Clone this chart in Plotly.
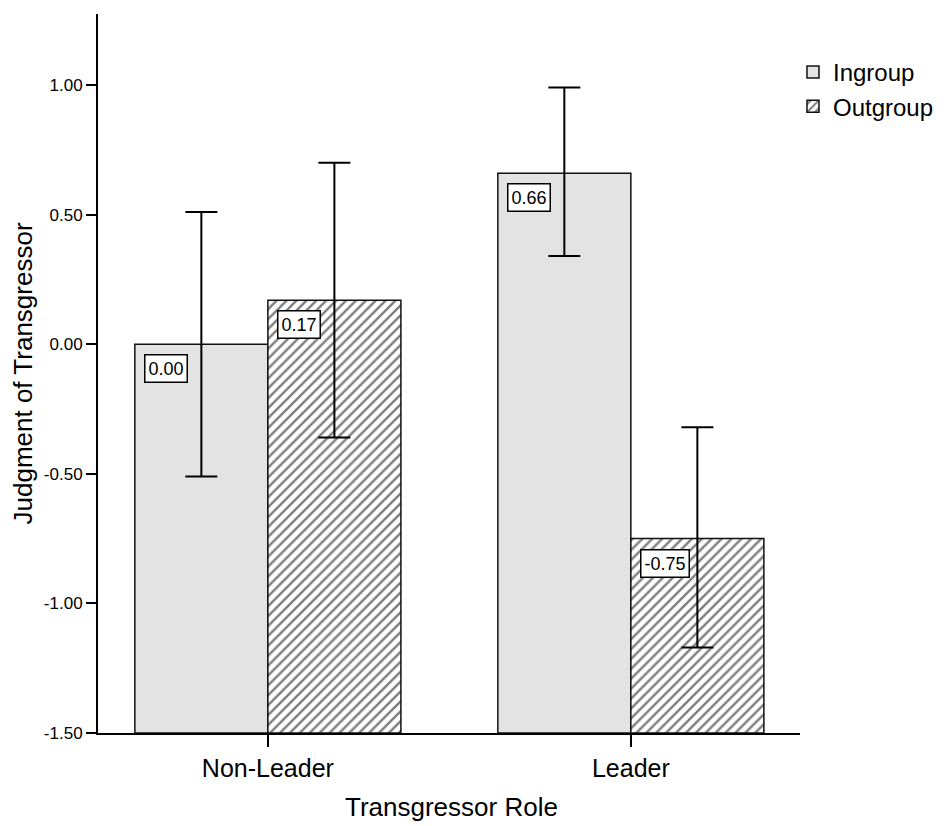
import plotly.graph_objects as go

categories = ["Non-Leader", "Leader"]
ingroup = [0.00, 0.66]
outgroup = [0.17, -0.75]
ingroup_err_plus = [0.51, 0.33]
ingroup_err_minus = [0.51, 0.32]
outgroup_err_plus = [0.53, 0.43]
outgroup_err_minus = [0.53, 0.42]
ytick_vals = [-1.5, -1.0, -0.5, 0.0, 0.5, 1.0]
ytick_text = ["-1.50", "-1.00", "-0.50", "0.00", "0.50", "1.00"]
BASE = -1.5

FONT = "Liberation Sans, Arial, sans-serif"
xs = [0, 1]

fig = go.Figure()
fig.add_trace(go.Bar(
    name="Ingroup", x=xs, y=[v - BASE for v in ingroup], base=BASE,
    marker=dict(color="#e3e3e3", line=dict(color="#111", width=1.5)),
    error_y=dict(type="data", symmetric=False, array=ingroup_err_plus,
                 arrayminus=ingroup_err_minus, color="black", thickness=2, width=16),
))
fig.add_trace(go.Bar(
    name="Outgroup", x=xs, y=[v - BASE for v in outgroup], base=BASE,
    marker=dict(color="white", line=dict(color="#111", width=1.5),
                pattern=dict(shape="/", fgcolor="black", bgcolor="white", size=7, solidity=0.35)),
    error_y=dict(type="data", symmetric=False, array=outgroup_err_plus,
                 arrayminus=outgroup_err_minus, color="black", thickness=2, width=16),
))

bw = 0.367
for i, v in enumerate(ingroup):
    fig.add_annotation(x=xs[i] - bw, y=v, xref="x", yref="y", text=f"{v:.2f}",
                       xanchor="left", yanchor="top", xshift=9, yshift=-10, showarrow=False,
                       bgcolor="white", bordercolor="black", borderwidth=1.5, borderpad=3,
                       font=dict(family=FONT, size=18, color="black"))
for i, v in enumerate(outgroup):
    fig.add_annotation(x=xs[i], y=v, xref="x", yref="y", text=f"{v:.2f}",
                       xanchor="left", yanchor="top", xshift=9, yshift=-10, showarrow=False,
                       bgcolor="white", bordercolor="black", borderwidth=1.5, borderpad=3,
                       font=dict(family=FONT, size=18, color="black"))

fig.add_annotation(text="Judgment of Transgressor", xref="paper", yref="paper",
                   x=0, y=0.5, xshift=-76, textangle=-90, showarrow=False,
                   xanchor="center", yanchor="middle", font=dict(family=FONT, size=26, color="black"))
fig.add_annotation(text="Transgressor Role", xref="paper", yref="paper",
                   x=0.503, y=0, yshift=-74, showarrow=False,
                   xanchor="center", yanchor="middle", font=dict(family=FONT, size=26, color="black"))

fig.update_layout(
    width=936, height=818,
    margin=dict(l=90, r=144, t=6, b=93, autoexpand=False),
    paper_bgcolor="white", plot_bgcolor="white",
    barmode="group", bargap=0.267, bargroupgap=0,
    font=dict(family=FONT, color="black"),
    showlegend=True,
    legend=dict(x=0.99, y=0.95, xanchor="left", yanchor="top", font=dict(size=24, family=FONT),
                bgcolor="rgba(0,0,0,0)", tracegroupgap=0, itemwidth=30),
    xaxis=dict(range=[-0.468, 1.466], tickvals=xs, ticktext=categories,
               showline=True, linecolor="black", linewidth=2, ticks="outside", ticklen=12,
               tickwidth=2, tickcolor="black", showgrid=False, zeroline=False,
               tickfont=dict(size=25, family=FONT)),
    yaxis=dict(range=[-1.5, 1.274], tickvals=ytick_vals, ticktext=ytick_text,
               showline=True, linecolor="black", linewidth=2, ticks="outside", ticklen=10,
               tickwidth=2, tickcolor="black", showgrid=False, zeroline=False,
               tickfont=dict(size=17, family=FONT)),
)

fig.write_html("out.html")
